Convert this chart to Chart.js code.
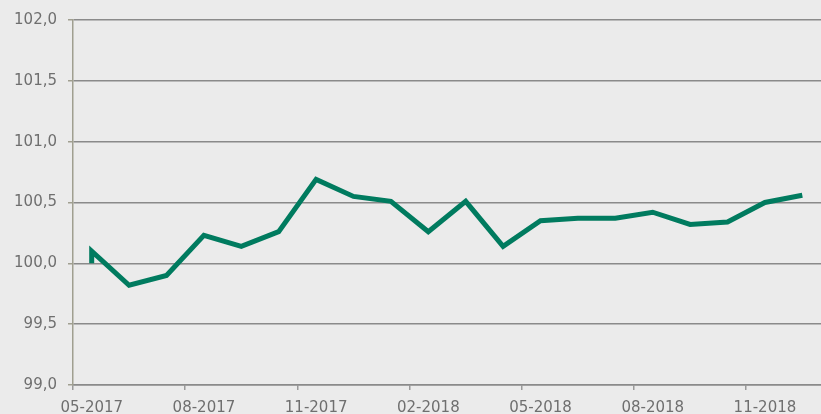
<!DOCTYPE html>
<html>
<head>
<meta charset="utf-8">
<script src="https://cdn.jsdelivr.net/npm/chart.js@4/dist/chart.umd.min.js"></script>
<style>
  html, body { margin: 0; padding: 0; background: #ebebeb; }
  #wrap { width: 821px; height: 414px; }
</style>
</head>
<body>
<div id="wrap"><canvas id="myChart"></canvas></div>
<script>
// months on the axis (one per step)
let months = ["05-2017", "06-2017", "07-2017", "08-2017", "09-2017", "10-2017", "11-2017", "12-2017",
    "01-2018", "02-2018", "03-2018", "04-2018", "05-2018", "06-2018", "07-2018", "08-2018",
    "09-2018", "10-2018", "11-2018", "12-2018"];
// which month each value belongs to (the series starts with the base 100 in the first month)
let monthIdx = [0, 0, 1, 2, 3, 4, 5, 6, 7, 8, 9, 10, 11, 12, 13, 14, 15, 16, 17, 18, 19];
let values = [100.0, 100.1, 99.82, 99.90, 100.23, 100.14, 100.26, 100.69, 100.55, 100.51, 100.26,
    100.51, 100.14, 100.35, 100.37, 100.37, 100.42, 100.32, 100.34, 100.50, 100.56];
let yTicks = [99.0, 99.5, 100.0, 100.5, 101.0, 101.5, 102.0];
let labelStep = 3;

let points = values.map((v, i) => ({ x: monthIdx[i], y: v }));

const font = { family: "'DejaVu Sans', Verdana, sans-serif", size: 15 };
const textColor = "#6f6f6f";

new Chart(document.getElementById('myChart'), {
    type: 'line',
    data: {
        datasets: [{
            data: points,
            borderColor: "#007b5f",
            borderWidth: 5,
            pointRadius: 0,
            tension: 0,
            fill: false
        }]
    },
    options: {
        responsive: true,
        maintainAspectRatio: false,
        animation: false,
        layout: { padding: { top: 20, right: 0, left: 0, bottom: 0 } },
        plugins: { legend: { display: false }, tooltip: { enabled: false } },
        scales: {
            x: {
                type: 'linear',
                min: -0.5,
                max: months.length - 0.5,
                afterBuildTicks: (axis) => {
                    let t = [];
                    for (let i = 0; i < months.length - 1; i += labelStep) t.push({ value: i - 0.5 });
                    axis.ticks = t;
                },
                afterFit: (axis) => { axis.height = 29; },
                ticks: {
                    autoSkip: false,
                    maxRotation: 0,
                    font: font,
                    color: textColor,
                    padding: 9,
                    labelOffset: 18.75,
                    callback: (value) => months[Math.round(value + 0.5)] || ''
                },
                grid: {
                    drawOnChartArea: false,
                    drawTicks: true,
                    tickLength: 5,
                    color: "#9a9a9a",
                    lineWidth: 1.5
                },
                border: { display: true, color: "#8a8a8a", width: 1.5 }
            },
            y: {
                min: 99,
                max: 102,
                afterBuildTicks: (axis) => { axis.ticks = yTicks.map(v => ({ value: v })); },
                afterFit: (axis) => { axis.width = 73; },
                ticks: {
                    font: font,
                    color: textColor,
                    padding: 11,
                    callback: (value) => value.toFixed(1).replace('.', ',')
                },
                grid: {
                    color: "#8a8a8a",
                    lineWidth: 1.5,
                    tickLength: 5,
                    tickColor: "#a09f90"
                },
                border: { display: true, color: "#a09f90", width: 1.5 }
            }
        }
    }
});
</script>
</body>
</html>
